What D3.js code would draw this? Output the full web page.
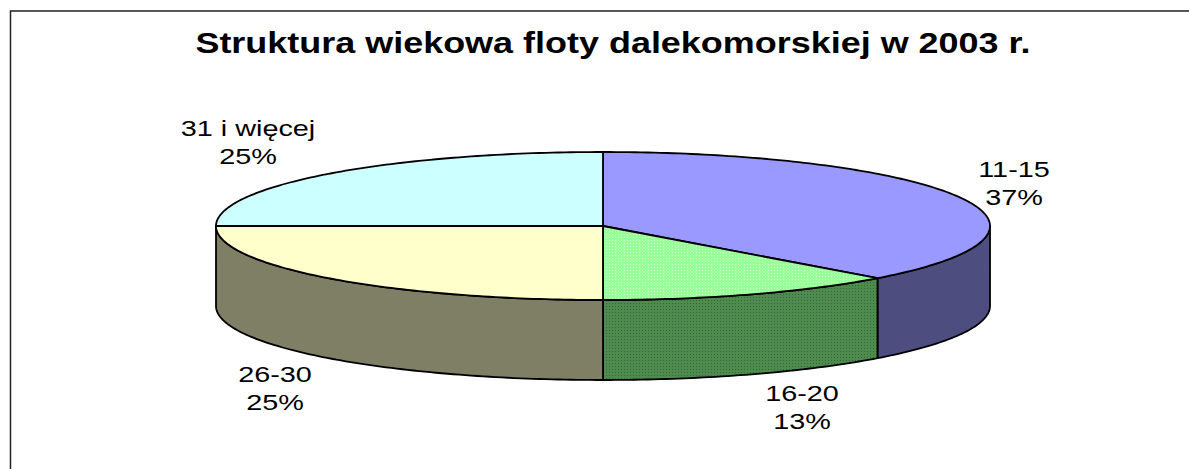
<!DOCTYPE html>
<html>
<head>
<meta charset="utf-8">
<script src="https://cdn.jsdelivr.net/npm/d3@7"></script>
<style>
  html, body { margin: 0; padding: 0; background: white; }
  svg { display: block; }
  text { font-family: "Liberation Sans", Arial, sans-serif; fill: #000; }
</style>
</head>
<body>
<svg id="chart" width="1189" height="469"></svg>
<script>
const chartTitle = "Struktura wiekowa floty dalekomorskiej w 2003 r.";
const categories = ["11-15", "16-20", "26-30", "31 i więcej"];
const shares = [37.45, 12.55, 25, 25];

const topColors = ["#9999ff", "url(#greenLight)", "#ffffcc", "#ccffff"];
const sideColors = ["#4d4d7f", "url(#greenDark)", "#7f7f66", "#7f7f66"];
const labelSpots = [[1014, 177], [802, 401], [275, 382], [248, 136]];

const svg = d3.select("#chart");

const cx = 603, cy = 226, rx = 387, ry = 74, depth = 80;

// the tilted pie is a unit circle pushed through two scales
const xScale = d3.scaleLinear().domain([-1, 1]).range([cx - rx, cx + rx]);
const yScale = d3.scaleLinear().domain([-1, 1]).range([cy - ry, cy + ry]);

// dithered greens
const defs = svg.append("defs");
const addDither = (id, base, dot) => {
  const p = defs.append("pattern").attr("id", id)
    .attr("width", 3).attr("height", 3)
    .attr("patternUnits", "userSpaceOnUse");
  p.append("rect").attr("width", 3).attr("height", 3).attr("fill", base);
  p.append("rect").attr("width", 1).attr("height", 1).attr("fill", dot);
};
addDither("greenLight", "#99ff99", "#ccffcc");
addDither("greenDark", "#4d8c4d", "#33663f");

// chart frame, open on the right and at the bottom
svg.append("path")
  .attr("d", "M10.5,469V11H1189")
  .attr("fill", "none")
  .attr("stroke", "#222")
  .attr("stroke-width", 1.5);

// the original text is stretched sideways, so scale x only
svg.append("text")
  .attr("transform", "translate(613,53) scale(1.24,1)")
  .attr("text-anchor", "middle")
  .attr("font-size", "29px")
  .attr("font-weight", "bold")
  .text(chartTitle);

const arcs = d3.pie().sort(null).value(d => d)(shares);

const rimPoints = (a0, a1) => {
  const n = Math.max(2, Math.ceil((a1 - a0) * 60));
  return d3.range(n + 1).map(i => {
    const a = a0 + (a1 - a0) * i / n;
    return [xScale(Math.sin(a)), yScale(-Math.cos(a))];
  });
};
const line = d3.line();

// side walls, only the front half of the rim (pi/2 .. 3pi/2) is visible
arcs.forEach((d, i) => {
  const a0 = Math.max(d.startAngle, Math.PI / 2);
  const a1 = Math.min(d.endAngle, 3 * Math.PI / 2);
  if (a1 <= a0) return;
  const rim = rimPoints(a0, a1);
  const lower = rim.map(p => [p[0], p[1] + depth]).reverse();
  svg.append("path")
    .attr("d", line(rim.concat(lower)) + "Z")
    .attr("fill", sideColors[i])
    .attr("stroke", "#000")
    .attr("stroke-width", 1.8)
    .attr("stroke-linejoin", "round");
});

// top slices
arcs.forEach((d, i) => {
  const pts = [[xScale(0), yScale(0)]].concat(rimPoints(d.startAngle, d.endAngle));
  svg.append("path")
    .attr("d", line(pts) + "Z")
    .attr("fill", topColors[i])
    .attr("stroke", "#000")
    .attr("stroke-width", 1.8)
    .attr("stroke-linejoin", "round");
});

// labels
categories.forEach((c, i) => {
  const t = svg.append("text")
    .attr("transform", "translate(" + labelSpots[i][0] + "," + labelSpots[i][1] + ") scale(1.31,1)")
    .attr("text-anchor", "middle")
    .attr("font-size", "22px");
  t.append("tspan").attr("x", 0).attr("y", 0).text(c);
  t.append("tspan").attr("x", 0).attr("y", 28).text(Math.round(shares[i]) + "%");
});
</script>
</body>
</html>
